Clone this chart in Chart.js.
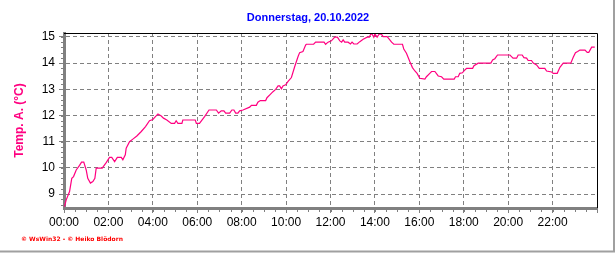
<!DOCTYPE html>
<html>
<head>
<meta charset="utf-8">
<script src="https://cdn.jsdelivr.net/npm/chart.js@4"></script>
<style>
  html, body { margin: 0; padding: 0; background: #fff; }
  #wrap { width: 616px; height: 253px; position: relative; }
</style>
</head>
<body>
<div id="wrap"><canvas id="tempChart"></canvas></div>
<script>
const titleText = "Donnerstag, 20.10.2022";
const yTitle = "Temp. A. (°C)";
const footerText = "© WsWin32 - © Heiko Blödorn";

// hours since midnight and temperature (°C)
const hours = [
  0.02, 0.1, 0.25, 0.35, 0.43, 0.55, 0.7, 0.79, 0.89, 1.0, 1.07, 1.19, 1.3, 1.39, 1.45, 1.72,
  1.9, 2.05, 2.15, 2.28, 2.4, 2.58, 2.65, 2.76, 2.8, 2.95, 3.1, 3.28, 3.48, 3.67, 3.85, 4.0,
  4.23, 4.38, 4.48, 4.63, 4.83, 4.98, 5.05, 5.13, 5.31, 5.35, 5.91, 5.96, 6.1, 6.33, 6.53, 6.86,
  6.96, 7.08, 7.2, 7.28, 7.46, 7.56, 7.65, 7.73, 7.83, 7.91, 8.06, 8.36, 8.44, 8.66, 8.73, 8.84,
  9.08, 9.14, 9.29, 9.41, 9.53, 9.64, 9.71, 9.79, 9.86, 9.98, 10.09, 10.24, 10.39, 10.54, 10.61,
  10.76, 10.88, 10.91, 11.24, 11.33, 11.71, 11.78, 11.89, 12.04, 12.19, 12.31, 12.42, 12.5,
  12.57, 12.64, 12.79, 12.9, 12.97, 13.05, 13.2, 13.32, 13.47, 13.65, 13.75, 13.81, 13.87,
  13.95, 14.0, 14.1, 14.19, 14.29, 14.37, 14.55, 14.67, 14.75, 14.85, 15.24, 15.3, 15.42,
  15.57, 15.69, 15.8, 15.9, 16.02, 16.25, 16.32, 16.47, 16.55, 16.7, 16.85, 17.0, 17.1, 17.57,
  17.63, 17.75, 17.82, 17.94, 18.05, 18.13, 18.4, 18.46, 18.65, 19.22, 19.3, 19.4, 19.52,
  20.08, 20.15, 20.22, 20.38, 20.45, 20.63, 20.71, 20.83, 20.9, 21.05, 21.13, 21.28, 21.4,
  21.65, 21.73, 21.96, 22.03, 22.21, 22.33, 22.48, 22.82, 22.93, 23.03, 23.13, 23.23, 23.46,
  23.56, 23.63, 23.76, 23.9
];
const temps = [
  8.52, 8.78, 9.1, 9.6, 9.67, 9.92, 10.1, 10.22, 10.22, 9.92, 9.6, 9.42, 9.48, 9.6, 9.99, 9.99,
  10.2, 10.4, 10.4, 10.24, 10.4, 10.4, 10.31, 10.5, 10.75, 11.0, 11.1, 11.22, 11.39, 11.58, 11.8, 11.85,
  12.06, 11.98, 11.9, 11.83, 11.7, 11.7, 11.8, 11.7, 11.7, 11.83, 11.83, 11.7, 11.7, 11.96, 12.21, 12.21,
  12.09, 12.18, 12.18, 12.09, 12.09, 12.21, 12.21, 12.09, 12.09, 12.18, 12.21, 12.32, 12.39, 12.39, 12.51, 12.57,
  12.57, 12.68, 12.81, 12.91, 13.0, 13.13, 13.13, 13.02, 13.13, 13.17, 13.3, 13.45, 13.87, 14.25, 14.4,
  14.44, 14.69, 14.72, 14.72, 14.8, 14.8, 14.72, 14.8, 14.85, 14.99, 14.99, 14.85, 14.8,
  14.89, 14.8, 14.8, 14.73, 14.8, 14.73, 14.73, 14.82, 14.91, 14.99, 14.99, 15.11, 15.11,
  14.99, 15.11, 14.99, 15.11, 15.11, 15.01, 15.01, 14.89, 14.8, 14.72, 14.72, 14.54, 14.38,
  14.06, 13.83, 13.7, 13.61, 13.42, 13.39, 13.48, 13.61, 13.68, 13.68, 13.51, 13.48, 13.39, 13.39,
  13.48, 13.48, 13.61, 13.63, 13.74, 13.8, 13.8, 13.9, 14.0, 14.0, 14.12, 14.17, 14.31,
  14.31, 14.25, 14.19, 14.19, 14.31, 14.31, 14.21, 14.19, 14.1, 14.1, 14.0, 13.93, 13.8,
  13.8, 13.7, 13.66, 13.61, 13.61, 13.84, 14.0, 14.0, 14.22, 14.4, 14.44, 14.5, 14.5,
  14.41, 14.41, 14.61, 14.61
];

const xMin = 0, xMax = 24, xStep = 2, xMinorStep = 0.5;
const yMin = 8.47, yMax = 15.15, yStep = 1, yMinorStep = 0.2;

const lineColor = "#ff0080";
const axisGray = "#808080";
const fontFamily = "'Liberation Sans', Arial, sans-serif";

const points = hours.map((h, i) => ({ x: h, y: temps[i] }));

// title, minor ticks, black frame, outer gray edge and footer text
const decorations = {
  id: "decorations",
  afterDraw(chart) {
    const ctx = chart.ctx;
    const area = chart.chartArea;
    const xs = chart.scales.x;
    const ys = chart.scales.y;
    ctx.save();

    // title, centred on the whole picture
    ctx.fillStyle = "#0000ff";
    ctx.font = "bold 11px " + fontFamily;
    ctx.textAlign = "center";
    ctx.textBaseline = "middle";
    ctx.fillText(titleText, chart.width / 2, 18);

    // black top / right frame
    ctx.strokeStyle = "#000";
    ctx.lineWidth = 1;
    ctx.beginPath();
    ctx.moveTo(area.left, area.top + 0.5);
    ctx.lineTo(area.right + 0.5, area.top + 0.5);
    ctx.lineTo(area.right + 0.5, area.bottom);
    ctx.stroke();

    // minor ticks
    ctx.strokeStyle = axisGray;
    ctx.beginPath();
    for (let v = xMin + xMinorStep; v < xMax; v += xMinorStep) {
      const px = Math.round(xs.getPixelForValue(v)) + 0.5;
      ctx.moveTo(px, area.bottom);
      ctx.lineTo(px, area.bottom + 4);
    }
    for (let v = 9; v <= yMax; v += yMinorStep) {
      const py = Math.round(ys.getPixelForValue(v)) + 0.5;
      ctx.moveTo(area.left - 3, py);
      ctx.lineTo(area.left, py);
    }
    for (let v = 9 - yMinorStep; v >= yMin; v -= yMinorStep) {
      const py = Math.round(ys.getPixelForValue(v)) + 0.5;
      ctx.moveTo(area.left - 3, py);
      ctx.lineTo(area.left, py);
    }
    ctx.stroke();

    // outer gray edge of the picture
    ctx.strokeStyle = "#a0a0a0";
    ctx.lineWidth = 2;
    ctx.beginPath();
    ctx.moveTo(0, chart.height - 1.5);
    ctx.lineTo(chart.width - 2, chart.height - 1.5);
    ctx.lineTo(chart.width - 2, 0);
    ctx.stroke();

    // footer
    ctx.fillStyle = "#ff0000";
    ctx.font = "bold 6px 'DejaVu Sans', sans-serif";
    ctx.textAlign = "left";
    ctx.fillText(footerText, 21, 239);
    ctx.restore();
  }
};

const canvas = document.getElementById("tempChart");
const ctx = canvas.getContext("2d");

new Chart(ctx, {
  type: "line",
  data: {
    datasets: [
      {
        label: yTitle,
        data: points,
        borderColor: lineColor,
        borderWidth: 1.2,
        pointRadius: 0,
        tension: 0,
        fill: false,
      },
    ],
  },
  options: {
    responsive: true,
    maintainAspectRatio: false,
    animation: false,
    layout: { padding: { left: 0, right: 19, top: 33, bottom: 0 } },
    plugins: {
      legend: { display: false },
      tooltip: { enabled: false },
      title: { display: false },
    },
    scales: {
      x: {
        type: "linear",
        min: xMin,
        max: xMax,
        afterFit(scale) { scale.height = 45; },
        ticks: {
          stepSize: xStep,
          autoSkip: false,
          maxRotation: 0,
          padding: 2,
          color: "#000",
          font: { family: fontFamily, size: 12 },
          callback: (v) => (v >= xMax ? "" : String(v).padStart(2, "0") + ":00"),
        },
        grid: {
          color: (c) => (c.tick && (c.tick.value <= xMin || c.tick.value >= xMax) ? "rgba(0,0,0,0)" : axisGray),
          tickColor: axisGray,
          tickLength: 5,
          tickBorderDash: [],
          lineWidth: 1,
        },
        border: { display: true, color: axisGray, width: 3, dash: [4, 3] },
      },
      y: {
        min: yMin,
        max: yMax,
        afterFit(scale) { scale.width = 64; },
        ticks: {
          stepSize: yStep,
          includeBounds: false,
          padding: 4,
          color: "#000",
          font: { family: fontFamily, size: 12 },
        },
        grid: {
          color: axisGray,
          tickColor: axisGray,
          tickLength: 5,
          tickBorderDash: [],
          lineWidth: 1,
        },
        border: { display: true, color: axisGray, width: 3, dash: [4, 3] },
        title: {
          display: true,
          text: yTitle,
          color: lineColor,
          font: { family: fontFamily, size: 12, weight: "bold" },
          padding: { top: 12, bottom: 0 },
        },
      },
    },
  },
  plugins: [decorations],
});
</script>
</body>
</html>
